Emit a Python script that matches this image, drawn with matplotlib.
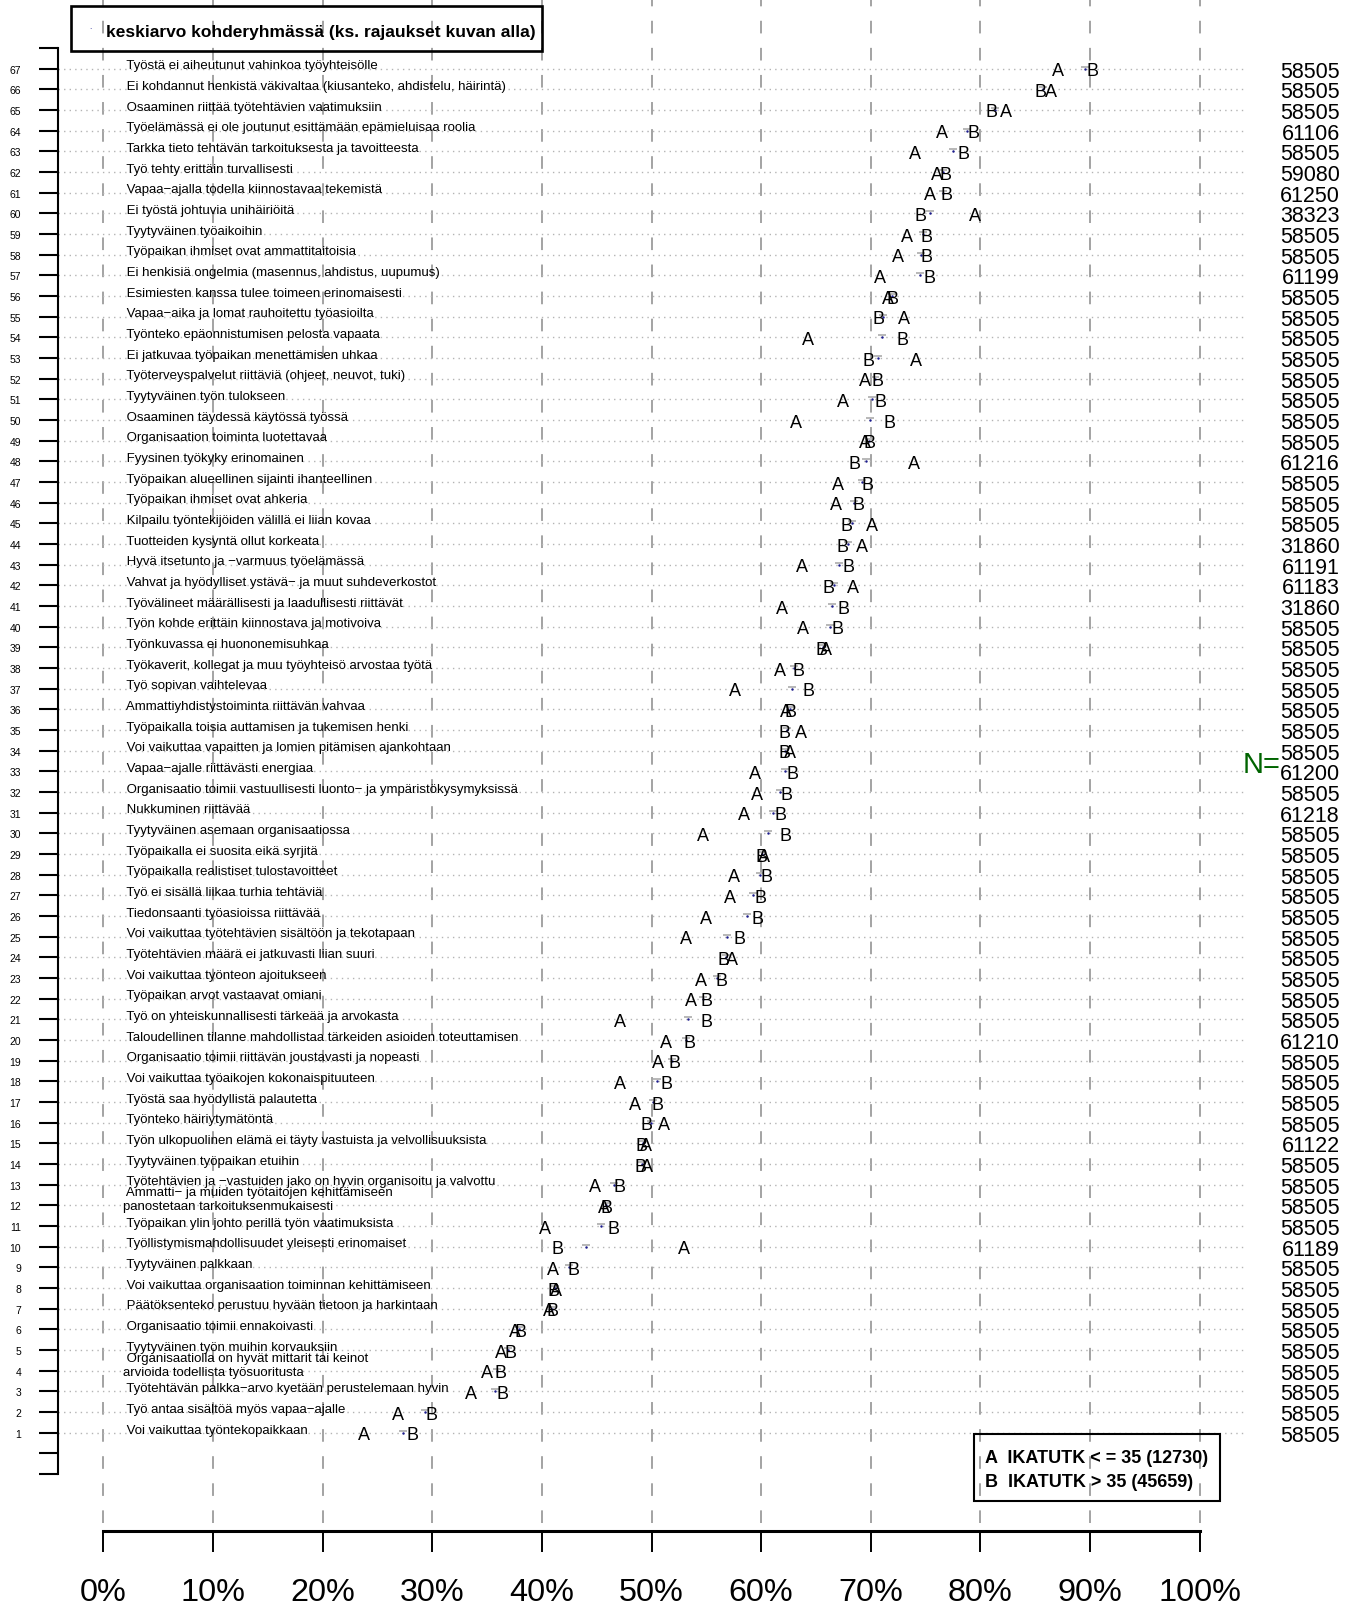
import matplotlib
matplotlib.use("Agg")
import matplotlib.pyplot as plt
from matplotlib import font_manager
from matplotlib.patches import Rectangle


# pick a narrow font for the big numbers if one is installed
try:
    font_manager.findfont("Liberation Sans Narrow", fallback_to_default=False)
    narrow = "Liberation Sans Narrow"
except Exception:
    narrow = "Liberation Sans"
plt.rcParams['font.family'] = ['Liberation Sans', 'DejaVu Sans']


# rows listed from top (67) to bottom (1)
labels = [
    "Työstä ei aiheutunut vahinkoa työyhteisölle",
    "Ei kohdannut henkistä väkivaltaa (kiusanteko, ahdistelu, häirintä)",
    "Osaaminen riittää työtehtävien vaatimuksiin",
    "Työelämässä ei ole joutunut esittämään epämieluisaa roolia",
    "Tarkka tieto tehtävän tarkoituksesta ja tavoitteesta",
    "Työ tehty erittäin turvallisesti",
    "Vapaa−ajalla todella kiinnostavaa tekemistä",
    "Ei työstä johtuvia unihäiriöitä",
    "Tyytyväinen työaikoihin",
    "Työpaikan ihmiset ovat ammattitaitoisia",
    "Ei henkisiä ongelmia (masennus, ahdistus, uupumus)",
    "Esimiesten kanssa tulee toimeen erinomaisesti",
    "Vapaa−aika ja lomat rauhoitettu työasioilta",
    "Työnteko epäonnistumisen pelosta vapaata",
    "Ei jatkuvaa työpaikan menettämisen uhkaa",
    "Työterveyspalvelut riittäviä (ohjeet, neuvot, tuki)",
    "Tyytyväinen työn tulokseen",
    "Osaaminen täydessä käytössä työssä",
    "Organisaation toiminta luotettavaa",
    "Fyysinen työkyky erinomainen",
    "Työpaikan alueellinen sijainti ihanteellinen",
    "Työpaikan ihmiset ovat ahkeria",
    "Kilpailu työntekijöiden välillä ei liian kovaa",
    "Tuotteiden kysyntä ollut korkeata",
    "Hyvä itsetunto ja −varmuus työelämässä",
    "Vahvat ja hyödylliset ystävä− ja muut suhdeverkostot",
    "Työvälineet määrällisesti ja laadullisesti riittävät",
    "Työn kohde erittäin kiinnostava ja motivoiva",
    "Työnkuvassa ei huononemisuhkaa",
    "Työkaverit, kollegat ja muu työyhteisö arvostaa työtä",
    "Työ sopivan vaihtelevaa",
    "Ammattiyhdistystoiminta riittävän vahvaa",
    "Työpaikalla toisia auttamisen ja tukemisen henki",
    "Voi vaikuttaa vapaitten ja lomien pitämisen ajankohtaan",
    "Vapaa−ajalle riittävästi energiaa",
    "Organisaatio toimii vastuullisesti luonto− ja ympäristökysymyksissä",
    "Nukkuminen riittävää",
    "Tyytyväinen asemaan organisaatiossa",
    "Työpaikalla ei suosita eikä syrjitä",
    "Työpaikalla realistiset tulostavoitteet",
    "Työ ei sisällä liikaa turhia tehtäviä",
    "Tiedonsaanti työasioissa riittävää",
    "Voi vaikuttaa työtehtävien sisältöön ja tekotapaan",
    "Työtehtävien määrä ei jatkuvasti liian suuri",
    "Voi vaikuttaa työnteon ajoitukseen",
    "Työpaikan arvot vastaavat omiani",
    "Työ on yhteiskunnallisesti tärkeää ja arvokasta",
    "Taloudellinen tilanne mahdollistaa tärkeiden asioiden toteuttamisen",
    "Organisaatio toimii riittävän joustavasti ja nopeasti",
    "Voi vaikuttaa työaikojen kokonaispituuteen",
    "Työstä saa hyödyllistä palautetta",
    "Työnteko häiriytymätöntä",
    "Työn ulkopuolinen elämä ei täyty vastuista ja velvollisuuksista",
    "Tyytyväinen työpaikan etuihin",
    "Työtehtävien ja −vastuiden jako on hyvin organisoitu ja valvottu",
    "Ammatti− ja muiden työtaitojen kehittämiseen\npanostetaan tarkoituksenmukaisesti",
    "Työpaikan ylin johto perillä työn vaatimuksista",
    "Työllistymismahdollisuudet yleisesti erinomaiset",
    "Tyytyväinen palkkaan",
    "Voi vaikuttaa organisaation toiminnan kehittämiseen",
    "Päätöksenteko perustuu hyvään tietoon ja harkintaan",
    "Organisaatio toimii ennakoivasti",
    "Tyytyväinen työn muihin korvauksiin",
    "Organisaatiolla on hyvät mittarit tai keinot\narvioida todellista työsuoritusta",
    "Työtehtävän palkka−arvo kyetään perustelemaan hyvin",
    "Työ antaa sisältöä myös vapaa−ajalle",
    "Voi vaikuttaa työntekopaikkaan",
]

n_values = [58505, 58505, 58505, 61106, 58505, 59080, 61250, 38323, 58505, 58505,
            61199, 58505, 58505, 58505, 58505, 58505, 58505, 58505, 58505, 61216,
            58505, 58505, 58505, 31860, 61191, 61183, 31860, 58505, 58505, 58505,
            58505, 58505, 58505, 58505, 61200, 58505, 61218, 58505, 58505, 58505,
            58505, 58505, 58505, 58505, 58505, 58505, 58505, 61210, 58505, 58505,
            58505, 58505, 61122, 58505, 58505, 58505, 58505, 61189, 58505, 58505,
            58505, 58505, 58505, 58505, 58505, 58505, 58505]

# group A: IKATUTK <= 35, group B: IKATUTK > 35 (percent)
a_vals = [87.1, 86.4, 82.3, 76.5, 74.0, 76.0, 75.4, 79.5, 73.3, 72.5,
          70.8, 71.6, 73.0, 64.3, 74.1, 69.5, 67.5, 63.2, 69.45, 73.9,
          67.0, 66.8, 70.1, 69.2, 63.7, 68.4, 61.9, 63.8, 65.9, 61.7,
          57.6, 62.3, 63.6, 62.6, 59.4, 59.6, 58.4, 54.7, 60.3, 57.5,
          57.2, 54.95, 53.1, 57.3, 54.5, 53.6, 47.1, 51.3, 50.6, 47.1,
          48.5, 51.1, 49.5, 49.6, 44.8, 45.7, 40.3, 53.0, 41.0, 41.3,
          40.6, 37.5, 36.3, 35.0, 33.5, 26.9, 23.8]

b_vals = [90.2, 85.5, 81.0, 79.4, 78.5, 76.8, 76.9, 74.5, 75.1, 75.1,
          75.4, 72.0, 70.7, 72.85, 69.8, 70.6, 70.9, 71.7, 69.9, 68.5,
          69.7, 68.9, 67.8, 67.4, 68.0, 66.1, 67.5, 67.0, 65.5, 63.4,
          64.3, 62.7, 62.1, 62.1, 62.9, 62.3, 61.8, 62.2, 60.0, 60.5,
          59.9, 59.7, 58.0, 56.6, 56.4, 55.0, 55.0, 53.5, 52.1, 51.4,
          50.5, 49.55, 49.1, 49.0, 47.1, 45.9, 46.5, 41.4, 42.9, 41.1,
          41.0, 38.0, 37.1, 36.2, 36.4, 29.9, 28.2]

# average of the whole target group
mean_vals = [89.5, 85.7, 81.3, 78.8, 77.5, 76.6, 76.6, 75.4, 74.75, 74.6,
             74.5, 71.9, 71.1, 71.0, 70.7, 70.4, 70.1, 69.9, 69.8, 69.6,
             69.2, 68.5, 68.3, 67.9, 67.1, 66.6, 66.5, 66.3, 65.6, 63.0,
             62.8, 62.6, 62.4, 62.2, 62.2, 61.75, 61.1, 60.6, 60.05, 59.9,
             59.3, 58.7, 56.9, 56.8, 56.0, 54.7, 53.3, 53.1, 51.9, 50.5,
             50.1, 49.95, 49.2, 49.1, 46.6, 45.8, 45.4, 44.0, 42.45, 41.15,
             40.9, 37.9, 36.9, 35.9, 35.7, 29.3, 27.3]

xticks = list(range(0, 101, 10))
xtick_labels = [f"{t}%" for t in xticks]

legend_title = "keskiarvo kohderyhmässä (ks. rajaukset kuvan alla)"
group_legend = ["A  IKATUTK < = 35 (12730)", "B  IKATUTK > 35 (45659)"]

n_rows = len(labels)
rows = list(range(n_rows, 0, -1))

# sizes depend on whether the narrow face exists
if narrow == "Liberation Sans":
    n_size, ntitle_size, xt_size, leg_size = 15.5, 21, 23.3, 12.5
else:
    n_size, ntitle_size, xt_size, leg_size = 18, 22, 26, 13.5


W, H = 1355, 1606
fig = plt.figure(figsize=(W / 100, H / 100), dpi=100)
ax = fig.add_axes([58 / W, (H - 1532) / H, 1186 / W, 1532 / H])
ax.set_xlim(-4.15, 104.05)
ax.set_ylim(-3.75, 70.37)

# grid
for t in xticks:
    ax.axvline(t, ymin=0.005, ymax=1, color='#9c9c9c', lw=1.3,
               dashes=(7, 8), zorder=1)
ax.hlines(rows, -4.15, 104.05, colors='#b4b4b4', linestyles=(0, (1, 3)),
          lw=1.0, zorder=1)

# row labels
for r, lab in zip(rows, labels):
    if "\n" in lab:
        ax.text(1.78, r + 0.3, " " + lab, fontsize=9.5, va='center', ha='left',
                linespacing=1.2, zorder=3)
    else:
        ax.text(1.78, r + 0.16, " " + lab, fontsize=9.5, va='center', ha='left',
                zorder=3)

# group averages and group letters
ax.plot(mean_vals, [r + 0.1 for r in rows], ls='none', marker='_', ms=6,
        mew=1.4, color='#b8b8b8', zorder=2)
ax.plot(mean_vals, rows, ls='none', marker='.', ms=1.5, color='#1a1a8c', zorder=2)
for r, a, b in zip(rows, a_vals, b_vals):
    ax.text(a, r, "A", fontsize=13, ha='center', va='center_baseline', zorder=4)
    ax.text(b, r, "B", fontsize=13, ha='center', va='center_baseline', zorder=4)

# N column
for r, n in zip(rows, n_values):
    ax.text(112.8, r, str(n), fontsize=n_size, family=narrow, ha='right',
            va='center_baseline', clip_on=False)
ax.text(103.9, 33.5, "N=", fontsize=ntitle_size, family=narrow, color='#006400',
        ha='left', va='center_baseline', clip_on=False)

# axes
for s in ['top', 'right']:
    ax.spines[s].set_visible(False)
ax.spines['left'].set_bounds(-1, 68)
ax.spines['left'].set_linewidth(1.5)
ax.spines['bottom'].set_bounds(0, 100)
ax.spines['bottom'].set_linewidth(2.2)

ax.set_yticks(range(-1, 69))
ax.set_yticklabels([str(k) if 1 <= k <= 67 else "" for k in range(-1, 69)])
ax.tick_params(axis='y', length=13.5, width=1.5, pad=13, labelsize=7.5)
ax.set_xticks(xticks)
ax.set_xticklabels(xtick_labels, family=narrow)
ax.tick_params(axis='x', length=15, width=1.4, pad=18, labelsize=xt_size)

# legend boxes
fig.patches.append(Rectangle((71 / W, 1 - 52 / H), 471 / W, 45 / H, fill=False,
                             lw=1.9, ec='black', transform=fig.transFigure))
fig.text(90 / W, 1 - 31 / H, ".", fontsize=6, color='#1a1a8c', ha='center',
         va='bottom')
fig.text(105.5 / W, 1 - 31 / H, legend_title, fontsize=leg_size, fontweight='bold',
         family=narrow, ha='left', va='center_baseline')

fig.patches.append(Rectangle((974 / W, 1 - 1502 / H), 246 / W, 67 / H, fill=False,
                             lw=1.5, ec='black', transform=fig.transFigure))
fig.text(985 / W, 1 - 1457 / H, group_legend[0], fontsize=13, fontweight='bold',
         family=narrow, ha='left', va='center_baseline')
fig.text(985 / W, 1 - 1481 / H, group_legend[1], fontsize=13, fontweight='bold',
         family=narrow, ha='left', va='center_baseline')

fig.savefig("out.png", dpi=100)
